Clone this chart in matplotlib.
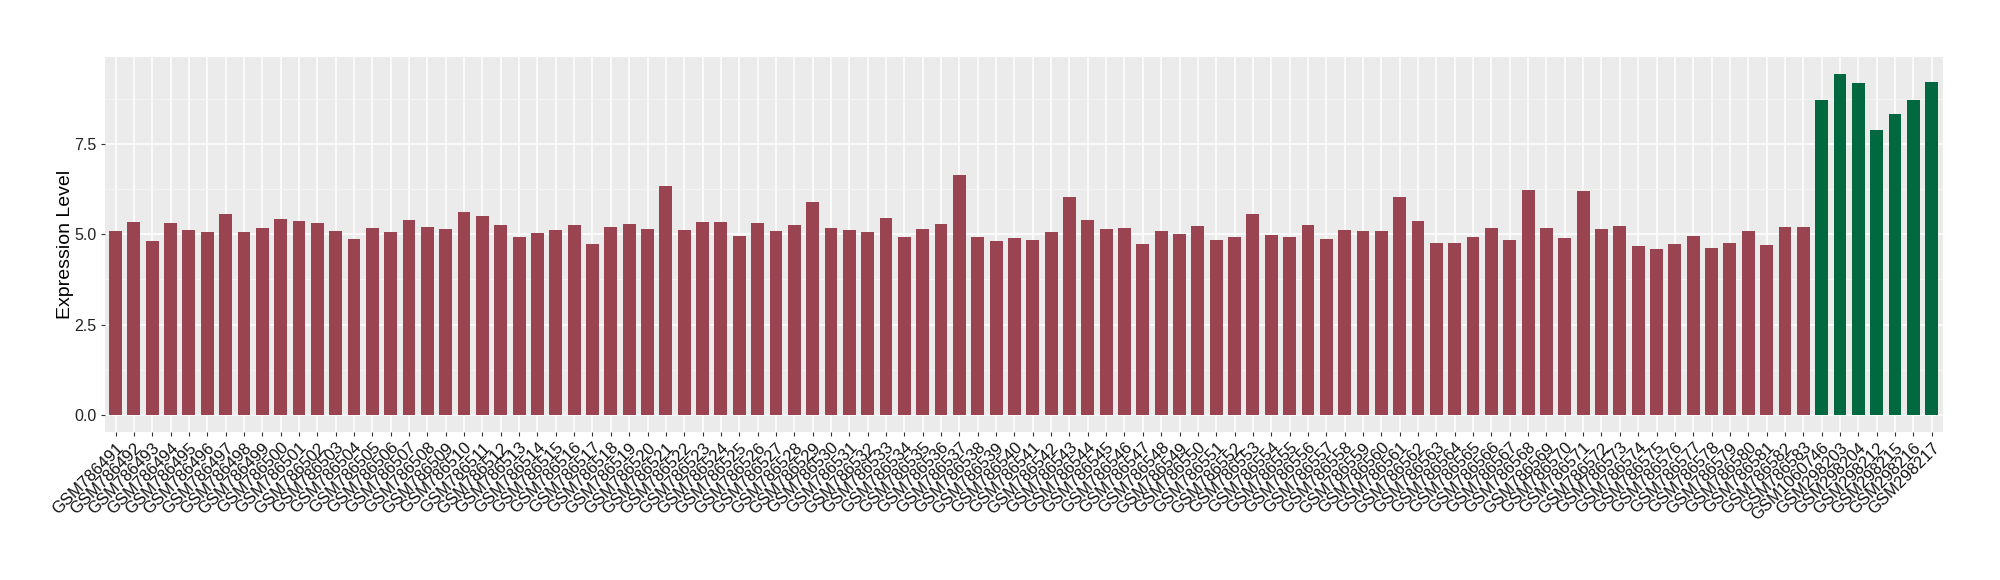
import matplotlib
matplotlib.use("Agg")
import matplotlib.pyplot as plt
import numpy as np

# ---- data ----
red_samples = [f"GSM{n}" for n in range(786491, 786584)]
green_samples = ["GSM1060746", "GSM298203", "GSM298204", "GSM298212",
                 "GSM298215", "GSM298216", "GSM298217"]
red_values = [
    5.08, 5.33, 4.80, 5.30, 5.11, 5.05, 5.55, 5.05, 5.16, 5.41,
    5.36, 5.30, 5.08, 4.86, 5.16, 5.05, 5.38, 5.19, 5.13, 5.60,
    5.49, 5.25, 4.91, 5.02, 5.11, 5.25, 4.72, 5.19, 5.27, 5.13,
    6.32, 5.11, 5.33, 5.33, 4.94, 5.30, 5.08, 5.25, 5.88, 5.16,
    5.11, 5.05, 5.44, 4.91, 5.13, 5.27, 6.63, 4.91, 4.80, 4.89,
    4.83, 5.05, 6.02, 5.38, 5.13, 5.16, 4.72, 5.08, 5.00, 5.22,
    4.83, 4.91, 5.55, 4.97, 4.91, 5.25, 4.86, 5.11, 5.08, 5.08,
    6.02, 5.36, 4.75, 4.75, 4.91, 5.16, 4.83, 6.21, 5.16, 4.89,
    6.18, 5.13, 5.22, 4.67, 4.58, 4.72, 4.94, 4.61, 4.75, 5.08,
    4.69, 5.19, 5.19,
]
green_values = [8.70, 9.44, 9.17, 7.87, 8.31, 8.72, 9.22]
y_ticks = [0.0, 2.5, 5.0, 7.5]
y_minor = [1.25, 3.75, 6.25, 8.75]

red_color = "#9a4452"
green_color = "#02683f"

labels = red_samples + green_samples
values = red_values + green_values
colors = [red_color] * len(red_values) + [green_color] * len(green_values)

fig = plt.figure(figsize=(20, 5.8), dpi=100)
ax = fig.add_axes([104.5 / 2000, 1 - 432 / 580, (1942.7 - 104.5) / 2000, (432 - 56.5) / 580])
ax.set_facecolor("#EBEBEB")
for s in ax.spines.values():
    s.set_visible(False)

x = np.arange(len(values))
ax.bar(x, values, width=0.7, color=colors, zorder=3)

vmax = max(values)
ax.set_ylim(-0.05 * vmax, vmax * 1.05)
ax.set_xlim(-0.6, len(values) - 1 + 0.6)

ax.set_yticks(y_ticks)
ax.set_yticks(y_minor, minor=True)
ax.set_yticklabels([f"{v:.1f}" for v in y_ticks], fontsize=11.5, color="#222222",
                   family="Liberation Sans")
ax.set_xticks(x)
ax.set_xticklabels(labels, rotation=45, ha="right", rotation_mode="anchor",
                   fontsize=12, color="#111111", family="Liberation Sans")

ax.grid(which="major", color="white", linewidth=1.1, zorder=0)
ax.grid(which="minor", axis="y", color="#F5F5F5", linewidth=0.6, zorder=0)
ax.set_axisbelow(True)
ax.tick_params(axis="both", which="major", length=3.2, width=0.8, color="#333333", pad=2.5)
ax.tick_params(axis="both", which="minor", length=0)

ax.set_ylabel("Expression Level", fontsize=14, family="Liberation Sans")
ax.yaxis.set_label_coords(-(104.5 - 74) / 1838.2, 0.5)

fig.savefig("out.png", dpi=100, facecolor="white")
